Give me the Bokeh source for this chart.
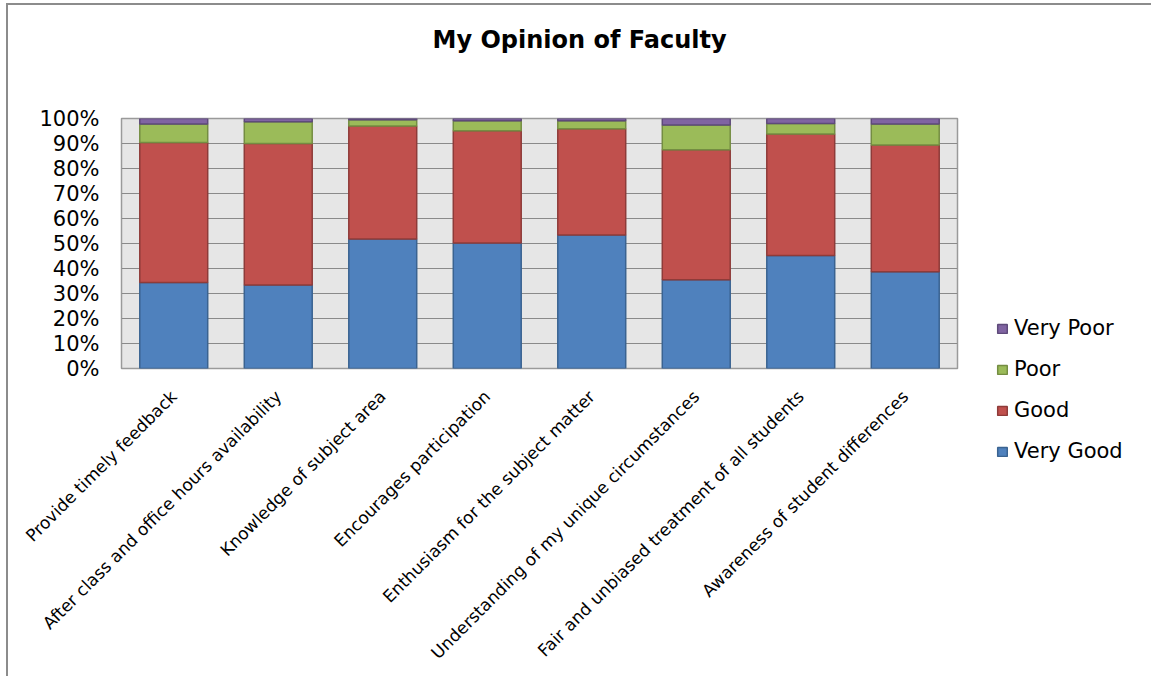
import math
from bokeh.plotting import figure
from bokeh.models import ColumnDataSource, Range1d, FixedTicker, Legend, LegendItem, Title
from bokeh.embed import file_html
from bokeh.resources import INLINE

categories = [
    "Provide timely feedback",
    "After class and office hours availability",
    "Knowledge of subject area",
    "Encourages participation",
    "Enthusiasm for the subject matter",
    "Understanding of my unique circumstances",
    "Fair and unbiased treatment of all students",
    "Awareness of student differences",
]
very_good = [34.4, 33.4, 51.8, 50.2, 53.4, 35.5, 45.2, 38.7]
good = [56.0, 56.6, 45.2, 44.9, 42.5, 52.0, 48.6, 50.7]
poor = [7.4, 8.7, 2.5, 4.0, 3.2, 9.9, 4.2, 8.4]
very_poor = [2.2, 1.3, 0.5, 0.9, 0.9, 2.6, 2.0, 2.2]

title_text = "My Opinion of Faculty"
series_names = ["Very Good", "Good", "Poor", "Very Poor"]
fill_colors = ["#4F81BD", "#C0504D", "#9BBB59", "#8064A2"]
line_colors = ["#3A6391", "#8E3B39", "#748D42", "#5E4A7A"]
y_ticks = [0, 10, 20, 30, 40, 50, 60, 70, 80, 90, 100]
y_tick_labels = ["0%", "10%", "20%", "30%", "40%", "50%", "60%", "70%", "80%", "90%", "100%"]

keys = ["vg", "g", "p", "vp"]
src = ColumnDataSource(dict(cat=categories, vg=very_good, g=good, p=poor, vp=very_poor))

FONT = "DejaVu Sans"

p = figure(
    x_range=categories, y_range=Range1d(0, 100),
    frame_width=836, frame_height=250,
    min_border_left=113, min_border_right=194,
    min_border_top=113, min_border_bottom=308,
    output_backend="svg", toolbar_location=None,
)
p.styles = {"border-left": "2px solid #8C8C8C", "border-top": "2px solid #8C8C8C",
            "margin-left": "6px", "margin-top": "3px"}
p.title.text = ""
p.title.standoff = 0

renderers = p.vbar_stack(keys, x="cat", width=0.65, source=src,
                         fill_color=fill_colors, line_color=line_colors,
                         line_width=1.5)

# spacer between frame and title (closest to frame), then the real title
spacer = Title(text=" ", text_font_size="1px", standoff=62)
p.add_layout(spacer, "above")
main_title = Title(text=title_text, align="left", text_font=FONT,
                   text_font_size="24px", text_font_style="bold",
                   text_color="black", standoff=0, offset=311)
p.add_layout(main_title, "above")

p.background_fill_color = "#E6E6E6"
p.border_fill_color = "white"
p.outline_line_color = "#9A9A9A"
p.outline_line_width = 1.5

p.xgrid.grid_line_color = None
p.ygrid.grid_line_color = "#8A8A8A"
p.ygrid.grid_line_width = 1.2

p.yaxis.ticker = FixedTicker(ticks=y_ticks)
p.yaxis.major_label_overrides = {t: l for t, l in zip(y_ticks, y_tick_labels)}
p.yaxis.major_label_text_font = FONT
p.yaxis.major_label_text_font_size = "21px"
p.yaxis.major_label_text_color = "black"
p.yaxis.major_label_standoff = 22
p.yaxis.major_tick_out = 0
p.yaxis.major_tick_in = 0
p.yaxis.minor_tick_out = 0
p.yaxis.minor_tick_in = 0
p.yaxis.axis_line_color = None

p.xaxis.major_label_orientation = math.pi / 4
p.xaxis.major_label_text_font = FONT
p.xaxis.major_label_text_font_size = "17px"
p.xaxis.major_label_text_color = "black"
p.xaxis.major_label_standoff = 25
p.xaxis.major_tick_out = 0
p.xaxis.major_tick_in = 0
p.xaxis.axis_line_color = None

items = [LegendItem(label=n, renderers=[r]) for n, r in zip(series_names, renderers)]
items.reverse()
legend = Legend(items=items, location=(39, -95), orientation="vertical")
legend.label_text_font = FONT
legend.label_text_font_size = "21px"
legend.label_text_color = "black"
legend.glyph_width = 12
legend.glyph_height = 11
legend.label_standoff = 6
legend.label_height = 22
legend.spacing = 17
legend.padding = 0
legend.margin = 0
legend.border_line_color = None
legend.background_fill_alpha = 0
p.add_layout(legend, "right")

open("out.html", "w").write(file_html(p, INLINE))
